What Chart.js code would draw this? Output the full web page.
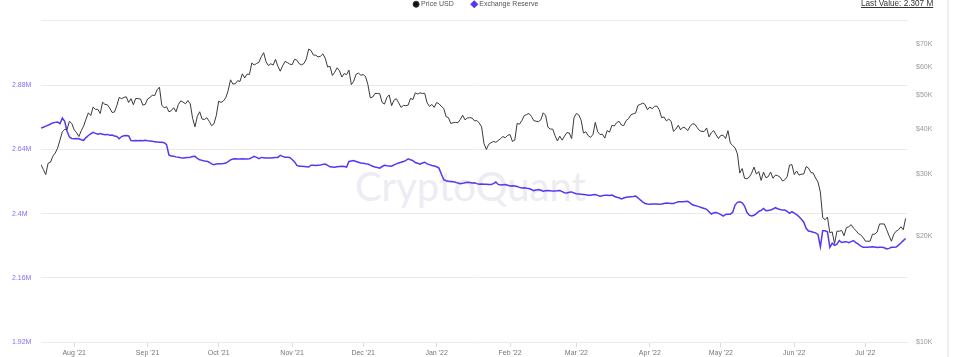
<!DOCTYPE html>
<html><head><meta charset="utf-8">
<script src="https://cdn.jsdelivr.net/npm/chart.js@4.4.0/dist/chart.umd.min.js"></script>
<style>
html,body{margin:0;padding:0;background:#fff;overflow:hidden}
#wrap{position:relative;width:953px;height:357px}
#wm{position:absolute;left:355px;top:166px;font:400 40px Lato,sans-serif;line-height:40px;color:#ececf3;white-space:nowrap;z-index:0}
#c{position:absolute;left:0;top:0;z-index:1}
#last{position:absolute;left:861px;top:-1px;font:8.2px 'Liberation Sans',Arial,sans-serif;line-height:10px;color:#333;text-decoration:underline;z-index:2;white-space:nowrap}
#edge{position:absolute;left:947px;top:0;width:2px;height:357px;background:#efefef}
</style></head><body>
<div id="wrap"><div id="wm">CryptoQuant</div><canvas id="c" width="953" height="357"></canvas><div id="last"></div><div id="edge"></div></div>
<script>
const startDate = '2021-07-18';

// BTC price (USD), daily from 2021-07-18
const priceUSD = [
31800,30800,29800,32100,32300,33600,34300,35400,37300,39400,40000,40000,42200,41600,
39900,39200,38200,39700,40900,42800,44600,43800,46300,45600,45600,44400,47800,47100,47000,46000,44700,44800,46700,49300,48900,49300,49500,47700,48900,47000,49000,48900,48800,46900,47100,
48800,49300,50000,49900,51800,52700,46800,46100,46400,44900,45200,46100,44900,47100,48200,47800,47300,48300,47300,43000,40700,43600,44900,42800,42700,43200,42200,41000,41500,43800,
48100,47700,48200,49200,51500,55300,53800,53900,55000,54700,57500,56000,57400,57300,61700,60900,61500,62000,64300,66000,62200,60700,61400,60900,63200,60400,58500,60600,62300,61900,61300,
61000,63200,62900,61400,61000,61500,63300,67600,66900,65000,64900,64200,64500,65500,63600,60100,60400,56900,58100,59800,58700,56300,57600,57200,58900,53600,54800,57300,57800,57000,
57200,56500,53600,49200,49400,50600,50600,50500,47700,47200,49300,50100,46700,48400,48900,47600,46200,46800,46700,46900,49000,48600,50800,50400,50800,50600,50600,47600,46500,47100,46200,
47700,47300,46500,45900,43500,43200,41600,41800,41900,41800,42700,43900,42600,43100,43200,43100,42300,42400,41700,40700,36500,35100,36300,36700,37000,36800,37200,37700,38200,37900,38500,
38700,37000,37300,41600,41400,42400,43800,44100,44400,43600,42400,42200,42100,42600,44600,43900,40600,40100,40100,38400,37100,38300,37300,38300,39200,39100,37700,43200,
44400,44000,42500,39100,39400,38400,38000,38700,41900,39400,38700,38800,37800,39700,39300,41100,40900,41800,42200,41200,41000,42400,42900,44000,44300,44500,46800,47100,47500,47100,45500,
46300,45800,46500,46600,45500,43200,43400,42300,42800,42200,39500,40100,41100,39900,40600,40400,39700,40800,41500,41400,40500,39700,39500,39500,40400,38100,39200,39700,38600,37700,
38500,38500,37700,39700,36600,36000,35500,34100,30100,31000,29100,29000,29300,30100,31300,29900,30400,28700,30300,29200,29400,30300,29100,29700,29600,29300,28600,28800,29400,31700,31800,
29800,30500,29700,29900,29900,31400,31100,30200,30100,29100,28400,26600,22500,22200,22600,20400,20500,19000,20600,20600,20700,20000,21100,21200,21500,21000,20700,20300,20100,19800,
19300,19300,19300,20200,20200,20500,21600,21600,21600,20800,20000,19300,20200,20600,20800,21200,20800,22400
];

// Exchange reserve (million BTC), daily from 2021-07-18
const exchangeReserve = [
2.720,2.723,2.727,2.730,2.735,2.739,2.741,2.742,2.736,2.757,2.745,2.708,2.686,2.681,
2.680,2.681,2.680,2.676,2.674,2.684,2.692,2.698,2.704,2.700,2.697,2.699,2.697,2.695,2.696,2.693,2.694,2.690,2.688,2.680,2.688,2.691,2.692,2.690,2.673,2.672,2.673,2.672,2.673,2.672,2.674,
2.672,2.671,2.670,2.669,2.668,2.667,2.667,2.665,2.658,2.619,2.615,2.614,2.612,2.611,2.609,2.608,2.609,2.610,2.611,2.613,2.614,2.606,2.601,2.599,2.597,2.596,2.592,2.586,2.583,2.585,
2.586,2.586,2.587,2.589,2.594,2.601,2.604,2.605,2.604,2.604,2.605,2.604,2.604,2.605,2.609,2.614,2.610,2.605,2.610,2.609,2.608,2.608,2.608,2.609,2.610,2.610,2.618,2.614,2.611,2.611,2.610,
2.602,2.594,2.580,2.577,2.577,2.576,2.575,2.574,2.581,2.581,2.580,2.581,2.582,2.584,2.585,2.580,2.575,2.574,2.573,2.575,2.576,2.577,2.576,2.574,2.595,2.597,2.598,2.595,2.592,2.589,
2.588,2.586,2.585,2.581,2.577,2.574,2.572,2.570,2.576,2.581,2.579,2.578,2.577,2.582,2.586,2.589,2.592,2.595,2.598,2.605,2.601,2.598,2.591,2.588,2.585,2.589,2.592,2.586,2.583,2.580,2.578,
2.575,2.570,2.548,2.527,2.523,2.521,2.520,2.519,2.517,2.514,2.512,2.513,2.515,2.517,2.516,2.514,2.515,2.512,2.510,2.511,2.510,2.510,2.509,2.509,2.512,2.518,2.509,2.507,2.508,2.509,2.506,
2.503,2.504,2.503,2.501,2.498,2.496,2.497,2.495,2.494,2.490,2.486,2.488,2.490,2.487,2.484,2.485,2.486,2.485,2.484,2.484,2.485,2.486,2.482,2.478,2.477,2.480,2.481,2.477,
2.474,2.473,2.472,2.471,2.470,2.469,2.469,2.470,2.471,2.468,2.465,2.467,2.469,2.469,2.468,2.469,2.465,2.461,2.459,2.455,2.458,2.461,2.462,2.463,2.464,2.466,2.459,2.451,2.444,2.438,2.436,
2.435,2.436,2.436,2.436,2.435,2.436,2.438,2.440,2.439,2.438,2.438,2.441,2.444,2.444,2.444,2.445,2.446,2.440,2.433,2.430,2.428,2.425,2.422,2.419,2.416,2.407,2.398,2.403,2.404,2.401,
2.396,2.391,2.397,2.398,2.398,2.405,2.432,2.442,2.444,2.440,2.428,2.405,2.394,2.391,2.394,2.400,2.408,2.412,2.419,2.411,2.412,2.413,2.417,2.422,2.418,2.415,2.413,2.413,2.408,2.401,2.407,
2.402,2.396,2.388,2.379,2.368,2.345,2.335,2.333,2.330,2.328,2.322,2.276,2.336,2.336,2.332,2.274,2.289,2.281,2.286,2.299,2.292,2.294,2.295,2.291,2.295,2.299,2.291,2.286,2.279,2.274,
2.274,2.274,2.275,2.276,2.275,2.273,2.274,2.274,2.272,2.268,2.270,2.274,2.274,2.275,2.282,2.290,2.299,2.307
];

const monthStarts = ['2021-08-01','2021-09-01','2021-10-01','2021-11-01','2021-12-01','2022-01-01','2022-02-01','2022-03-01','2022-04-01','2022-05-01','2022-06-01','2022-07-01'];
const monthLabels = ["Aug '21","Sep '21","Oct '21","Nov '21","Dec '21","Jan '22","Feb '22","Mar '22","Apr '22","May '22","Jun '22","Jul '22"];
const reserveTicks = [1.92, 2.16, 2.40, 2.64, 2.88, 3.12];
const reserveTickLabels = ['1.92M','2.16M','2.4M','2.64M','2.88M',''];
const priceTicks = [10000, 20000, 30000, 40000, 50000, 60000, 70000];

const DAY = 86400000;
const t0 = Date.parse(startDate);
const monthDays = monthStarts.map(d => Math.round((Date.parse(d) - t0) / DAY));

document.getElementById('last').textContent = 'Last Value: ' + exchangeReserve[exchangeReserve.length - 1].toFixed(3) + ' M';

Chart.defaults.font.family = "'Liberation Sans', Arial, sans-serif";

new Chart(document.getElementById('c'), {
  type: 'line',
  data: {
    datasets: [
      {
        label: 'Price USD',
        data: priceUSD.map((v, i) => ({x: i, y: v})),
        yAxisID: 'yPrice',
        borderColor: '#3a3a3a',
        backgroundColor: '#111',
        borderWidth: 1,
        pointRadius: 0,
        pointStyle: 'circle',
        tension: 0
      },
      {
        label: 'Exchange Reserve',
        data: exchangeReserve.map((v, i) => ({x: i, y: v})),
        yAxisID: 'yReserve',
        borderColor: '#5538f2',
        backgroundColor: '#5538f2',
        borderWidth: 1.5,
        pointRadius: 0,
        pointStyle: 'rectRot',
        tension: 0
      }
    ]
  },
  options: {
    responsive: false,
    animation: false,
    layout: { padding: { top: -18.25, left: 12, right: 12, bottom: 0 } },
    plugins: {
      legend: {
        position: 'top',
        align: 'center',
        labels: { usePointStyle: true, boxWidth: 3, boxHeight: 4.3, padding: 19, color: '#555', font: { size: 7 } }
      },
      tooltip: { enabled: false }
    },
    scales: {
      x: {
        type: 'linear',
        min: 0,
        max: 366,
        afterBuildTicks: s => { s.ticks = monthDays.map(v => ({value: v})); },
        afterFit: s => { s.height = 15; },
        ticks: { autoSkip: false, maxRotation: 0, padding: 1.5, color: '#777', font: { size: 7 },
                 callback: (v, i) => monthLabels[i] },
        grid: { drawOnChartArea: false, drawTicks: true, tickLength: 5, color: '#dcdcdc' },
        border: { display: false }
      },
      yReserve: {
        type: 'linear',
        position: 'left',
        min: 1.92,
        max: 3.1321,
        afterBuildTicks: s => { s.ticks = reserveTicks.map(v => ({value: v})); },
        afterFit: s => { s.width = 29; },
        ticks: { crossAlign: 'far', padding: 0, color: '#7f70f5', font: { size: 7 },
                 callback: (v, i) => reserveTickLabels[i] },
        grid: { color: '#ebebee', drawTicks: false },
        border: { display: false }
      },
      yPrice: {
        type: 'logarithmic',
        position: 'right',
        min: 10000,
        max: 82900,
        afterBuildTicks: s => { s.ticks = priceTicks.map(v => ({value: v})); },
        afterFit: s => { s.width = 33; },
        ticks: { padding: 8, color: '#999', font: { size: 7 },
                 callback: v => '$' + (v / 1000) + 'K' },
        grid: { display: false, drawTicks: false },
        border: { display: false }
      }
    }
  }
});
</script></body></html>
